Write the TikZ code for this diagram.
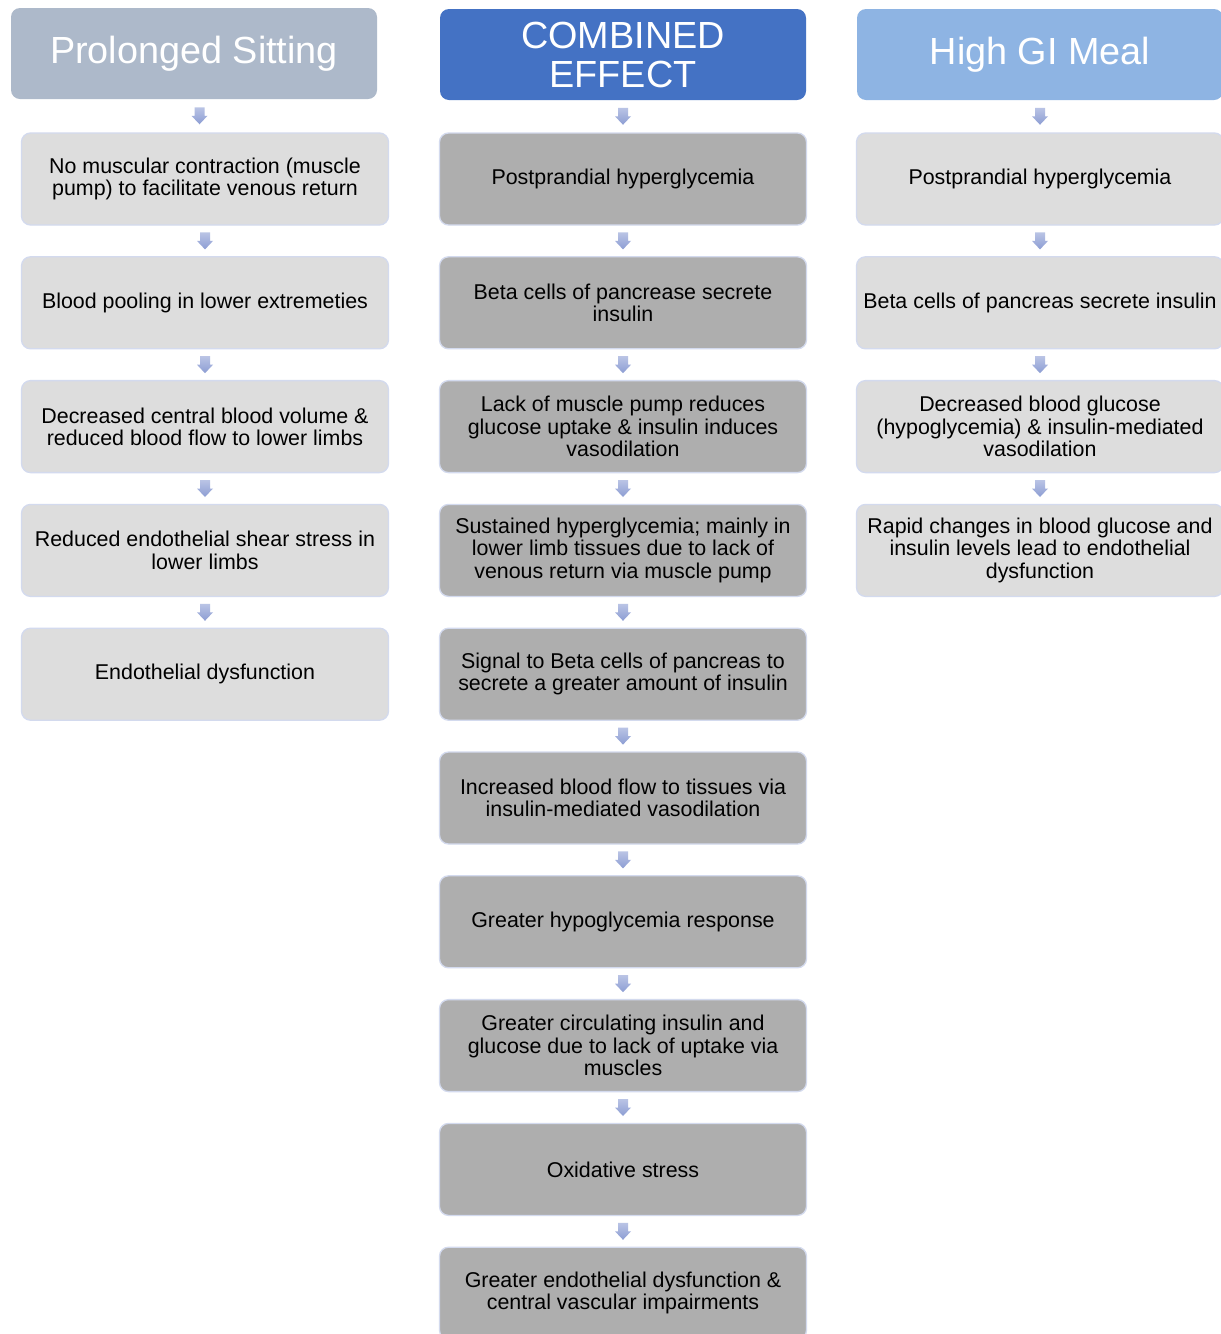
\documentclass[tikz,border=0pt]{standalone}
\usepackage{fontspec}
\setmainfont{Liberation Sans}
\usetikzlibrary{calc}
\definecolor{hleft}{HTML}{ADB9CA}
\definecolor{hmid}{HTML}{4472C4}
\definecolor{hright}{HTML}{8EB4E3}
\definecolor{boxlight}{HTML}{DDDDDD}
\definecolor{boxdark}{HTML}{AEAEAE}
\definecolor{boxedge}{HTML}{D3DAEE}
\definecolor{arrtop}{HTML}{BAC4E5}
\definecolor{arrbot}{HTML}{8C9DD3}
\tikzset{
  header/.style={rectangle, rounded corners=9pt, minimum width=366pt, minimum height=91pt,
    align=center, text=white, font=\fontsize{37.8}{39}\selectfont, draw=none, inner sep=0pt},
  lightbox/.style={rectangle, rounded corners=9pt, minimum width=367pt, minimum height=92pt,
    align=center, fill=boxlight, draw=boxedge, line width=1.3pt,
    font=\fontsize{21.4}{22.3}\selectfont, inner sep=0pt},
  darkbox/.style={lightbox, fill=boxdark}
}
\newcommand\flowarrow[2]{%
  \path (#1.south) -- coordinate[midway] (am) (#2.north);
  \shade[top color=arrtop, bottom color=arrbot]
    ($(am)+(-5,-8.5)$) -- ($(am)+(5,-8.5)$) -- ($(am)+(5,0)$) -- ($(am)+(8,0)$)
    -- ($(am)+(0,8.5)$) -- ($(am)+(-8,0)$) -- ($(am)+(-5,0)$) -- cycle;
}
\begin{document}
\begin{tikzpicture}[x=1pt,y=-1pt]
\useasboundingbox[fill=white] (0,0) rectangle (1221,1334);
% headers
\node[header, fill=hleft] (hl) at (194,53.5) {Prolonged Sitting};
\node[header, fill=hmid] (hm) at (623,54.5) {COMBINED\\EFFECT};
\node[header, fill=hright] (hr) at (1040,54.5) {High GI Meal};
% left column
\node[lightbox] (l1) at (205,179) {No muscular contraction (muscle\\pump) to facilitate venous return};
\node[lightbox] (l2) at (205,302.8) {Blood pooling in lower extremeties};
\node[lightbox] (l3) at (205,426.6) {Decreased central blood volume \&\\reduced blood flow to lower limbs};
\node[lightbox] (l4) at (205,550.4) {Reduced endothelial shear stress in\\lower limbs};
\node[lightbox] (l5) at (205,674.2) {Endothelial dysfunction};
% middle column
\node[darkbox] (m1) at (623,179) {Postprandial hyperglycemia};
\node[darkbox] (m2) at (623,302.8) {Beta cells of pancrease secrete\\insulin};
\node[darkbox] (m3) at (623,426.6) {Lack of muscle pump reduces\\glucose uptake \& insulin induces\\vasodilation};
\node[darkbox] (m4) at (623,550.4) {Sustained hyperglycemia; mainly in\\lower limb tissues due to lack of\\venous return via muscle pump};
\node[darkbox] (m5) at (623,674.2) {Signal to Beta cells of pancreas to\\secrete a greater amount of insulin};
\node[darkbox] (m6) at (623,798) {Increased blood flow to tissues via\\insulin-mediated vasodilation};
\node[darkbox] (m7) at (623,921.8) {Greater hypoglycemia response};
\node[darkbox] (m8) at (623,1045.6) {Greater circulating insulin and\\glucose due to lack of uptake via\\muscles};
\node[darkbox] (m9) at (623,1169.4) {Oxidative stress};
\node[darkbox] (m10) at (623,1293.2) {Greater endothelial dysfunction \&\\central vascular impairments};
% right column
\node[lightbox] (r1) at (1040,179) {Postprandial hyperglycemia};
\node[lightbox] (r2) at (1040,302.8) {Beta cells of pancreas secrete insulin};
\node[lightbox] (r3) at (1040,426.6) {Decreased blood glucose\\(hypoglycemia) \& insulin-mediated\\vasodilation};
\node[lightbox] (r4) at (1040,550.4) {Rapid changes in blood glucose and\\insulin levels lead to endothelial\\dysfunction};
% arrows
\flowarrow{hl}{l1}\flowarrow{l1}{l2}\flowarrow{l2}{l3}\flowarrow{l3}{l4}\flowarrow{l4}{l5}
\flowarrow{hm}{m1}\flowarrow{m1}{m2}\flowarrow{m2}{m3}\flowarrow{m3}{m4}\flowarrow{m4}{m5}
\flowarrow{m5}{m6}\flowarrow{m6}{m7}\flowarrow{m7}{m8}\flowarrow{m8}{m9}\flowarrow{m9}{m10}
\flowarrow{hr}{r1}\flowarrow{r1}{r2}\flowarrow{r2}{r3}\flowarrow{r3}{r4}
\end{tikzpicture}
\end{document}
